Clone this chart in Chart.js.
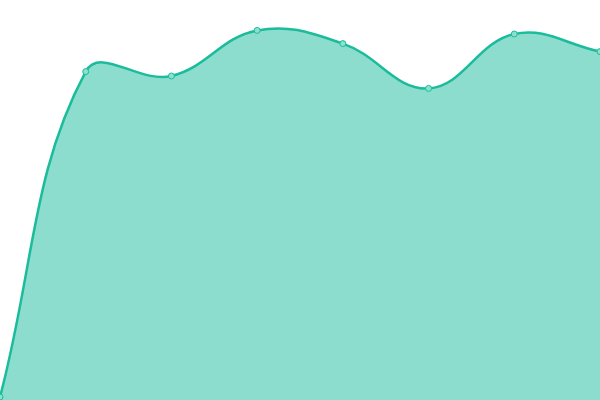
<!DOCTYPE html>
<html><head><meta charset="utf-8">
<script src="https://cdn.jsdelivr.net/npm/chart.js@4/dist/chart.umd.min.js"></script>
<style>html,body{margin:0;padding:0;background:#fff;}#wrap{width:600px;height:400px;}</style>
</head><body><div id="wrap"><canvas id="c"></canvas></div>
<script>
const labels = ["1","2","3","4","5","6","7","8"];
const values = [0.75, 82.1, 81, 92.4, 89.1, 77.9, 91.5, 87.1];
const yMin = 0, yMax = 100;
new Chart(document.getElementById('c'), {
  type: 'line',
  data: { labels: labels, datasets: [{
    data: values,
    fill: true,
    backgroundColor: 'rgba(26,188,156,0.5)',
    borderColor: '#1abc9c',
    borderWidth: 2.5,
    tension: 0.4,
    pointRadius: 3,
    pointBorderWidth: 1,
    pointBackgroundColor: 'rgba(140,224,206,1)',
    pointBorderColor: '#1abc9c'
  }]},
  options: {
    responsive: true, maintainAspectRatio: false, animation: false,
    layout: { padding: 0, autoPadding: false },
    plugins: { legend: { display: false }, tooltip: { enabled: false } },
    scales: {
      x: { display: false, offset: false },
      y: { display: false, min: yMin, max: yMax }
    }
  }
});
</script></body></html>
